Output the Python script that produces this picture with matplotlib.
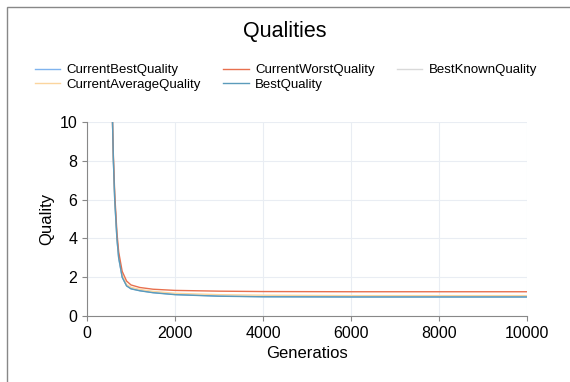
import numpy as np
import matplotlib.pyplot as plt
from matplotlib.patches import Rectangle

plt.rcParams['font.family'] = ['Liberation Sans', 'DejaVu Sans']

# values
generations = [580, 600, 630, 680, 720, 800, 900, 1000, 1200, 1500, 2000,
               3000, 4000, 6000, 8000, 10000]
best_quality = [10, 8, 6, 4, 3, 2, 1.55, 1.4, 1.3, 1.2, 1.1,
                1.02, 0.99, 0.98, 0.98, 0.98]
current_best = [10, 8, 6, 4, 3, 2, 1.56, 1.41, 1.31, 1.21, 1.11,
                1.03, 1.0, 0.99, 0.99, 0.99]
current_avg = [10, 8.1, 6.1, 4.1, 3.1, 2.1, 1.62, 1.48, 1.37, 1.27, 1.17,
               1.1, 1.07, 1.05, 1.05, 1.05]
current_worst = [10, 8.2, 6.3, 4.3, 3.3, 2.3, 1.8, 1.6, 1.47, 1.38, 1.32,
                 1.28, 1.26, 1.25, 1.25, 1.25]
best_known = [np.nan] * len(generations)

fig = plt.figure(figsize=(5.7, 3.82), dpi=100)
ax = fig.add_axes([87 / 570, 1 - 316 / 382, 440 / 570, 194 / 382])

ax.plot(generations, current_best, color='#7fb3ee', lw=1, label='CurrentBestQuality')
ax.plot(generations, current_avg, color='#fbd59e', lw=1, label='CurrentAverageQuality')
ax.plot(generations, current_worst, color='#e8704e', lw=1, label='CurrentWorstQuality')
ax.plot(generations, best_quality, color='#5b9bbb', lw=1, label='BestQuality')
ax.plot(generations, best_known, color='#d9d9d9', lw=1, label='BestKnownQuality')

ax.set_xlim(0, 10000)
ax.set_ylim(0, 10)
ax.set_xticks([0, 2000, 4000, 6000, 8000, 10000])
ax.set_yticks([0, 2, 4, 6, 8, 10])
ax.grid(True, color='#e9edf3', lw=0.8)
ax.set_axisbelow(True)
for s in ['top', 'right']:
    ax.spines[s].set_visible(False)
for s in ['left', 'bottom']:
    ax.spines[s].set_color('#888888')
ax.tick_params(colors='#888888', labelcolor='black', labelsize=11.5, length=3.5)
ax.set_xlabel('Generatios', fontsize=12)
ax.set_ylabel('Quality', fontsize=12)

fig.text(0.5, 1 - 31 / 382, 'Qualities', ha='center', va='center', fontsize=15.5)
fig.legend(loc='upper left', bbox_to_anchor=(35 / 570, 1 - 64 / 382), ncol=3,
           frameon=False, fontsize=9.5, handlelength=1.9, handletextpad=0.5,
           columnspacing=1.7, labelspacing=0.2, borderaxespad=0, borderpad=0)

fig.patches.append(Rectangle((7 / 570, -0.1), 1.1, 1 - 7 / 382 + 0.1,
                             transform=fig.transFigure, fill=False,
                             edgecolor='#888888', lw=1))

fig.savefig('out.png', dpi=100)
